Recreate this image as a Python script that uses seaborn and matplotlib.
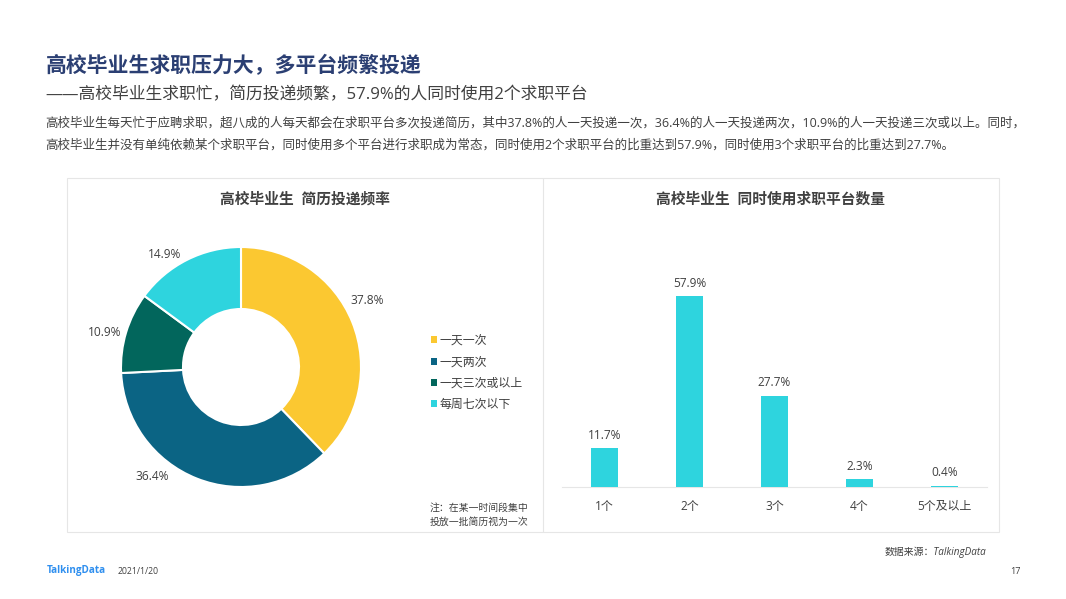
import matplotlib
matplotlib.use('Agg')
import matplotlib.pyplot as plt
from matplotlib.patches import Rectangle, Patch
from matplotlib.lines import Line2D
import pandas as pd
import seaborn as sns

W, H = 1066, 599

# 全角标点
C = '\uff0c'
M = '\uff1a'

# 简历投递频率
freq_labels = ['一天一次', '一天两次', '一天三次或以上', '每周七次以下']
freq_values = [37.8, 36.4, 10.9, 14.9]
freq_colors = ['#FBC831', '#0B6484', '#02665C', '#2ED4DE']

# 同时使用求职平台数量
platform_labels = ['1个', '2个', '3个', '4个', '5个及以上']
platform_values = [11.7, 57.9, 27.7, 2.3, 0.4]
bar_color = '#2ED4DE'

title = f'高校毕业生求职压力大{C}多平台频繁投递'
subtitle = f'——高校毕业生求职忙{C}简历投递频繁{C}57.9%的人同时使用2个求职平台'
body_1 = (f'高校毕业生每天忙于应聘求职{C}超八成的人每天都会在求职平台多次投递简历{C}其中37.8%的人一天投递一次{C}'
          f'36.4%的人一天投递两次{C}10.9%的人一天投递三次或以上。同时{C}')
body_2 = (f'高校毕业生并没有单纯依赖某个求职平台{C}同时使用多个平台进行求职成为常态{C}'
          f'同时使用2个求职平台的比重达到57.9%{C}同时使用3个求职平台的比重达到27.7%。')

sns.set_theme(style='white')
plt.rcParams['font.family'] = ['Open Sans', 'Noto Sans CJK SC', 'DejaVu Sans']

TEXT = '#404040'
BORDER = '#E6E6E6'


def px_axes(fig, x0, y0, x1, y1):
    # 用像素坐标建 axes,y 从上往下
    return fig.add_axes([x0 / W, 1 - y1 / H, (x1 - x0) / W, (y1 - y0) / H])


def px_text(fig, x, y, s, **kw):
    kw.setdefault('va', 'center')
    kw.setdefault('color', TEXT)
    return fig.text(x / W, 1 - y / H, s, **kw)


fig = plt.figure(figsize=(W / 100, H / 100), dpi=100, facecolor='white')

px_text(fig, 45.5, 66, title, fontsize=15.0, fontweight='bold', color='#2B3F73')
px_text(fig, 45.5, 95, subtitle, fontsize=12.1)
px_text(fig, 45.5, 123.5, body_1, fontsize=9.0)
px_text(fig, 45.5, 145.5, body_2, fontsize=9.0)

# 外框和中间分隔线
fig.add_artist(Rectangle((67 / W, 1 - 532 / H), 932 / W, 354 / H, transform=fig.transFigure,
                         fill=False, edgecolor=BORDER, linewidth=0.8))
fig.add_artist(Line2D([542.5 / W, 542.5 / W], [1 - 532 / H, 1 - 178 / H], transform=fig.transFigure,
                      color=BORDER, linewidth=0.8))

px_text(fig, 304.5, 199, '高校毕业生  简历投递频率', fontsize=10.6, fontweight='bold', ha='center')
px_text(fig, 771, 199, '高校毕业生  同时使用求职平台数量', fontsize=10.6, fontweight='bold', ha='center')

# 环形图
ax_pie = px_axes(fig, 101, 227, 381, 507)
wedges, _ = ax_pie.pie(freq_values, colors=freq_colors, startangle=90, counterclock=False,
                       radius=120 / 140, wedgeprops={'width': 62 / 140, 'edgecolor': 'white', 'linewidth': 1.5})
ax_pie.set_xlim(-1, 1)
ax_pie.set_ylim(-1, 1)

pie_label_pos = [(367, 301), (152, 477), (105, 332), (165, 254)]
for (x, y), v in zip(pie_label_pos, freq_values):
    px_text(fig, x, y, f'{v}%', fontsize=8.6, ha='center')

handles = [Patch(facecolor=c, edgecolor='none', label=l) for c, l in zip(freq_colors, freq_labels)]
fig.legend(handles=handles, loc='upper left', bbox_to_anchor=(431 / W, 1 - 334 / H), frameon=False,
           fontsize=8.6, labelcolor=TEXT, handlelength=0.5, handleheight=0.5, handletextpad=0.25,
           labelspacing=0.7, borderpad=0, borderaxespad=0)

px_text(fig, 528, 508, f'注{M}在某一时间段集中', fontsize=7.1, ha='right', style='italic')
px_text(fig, 528, 522, '投放一批简历视为一次', fontsize=7.1, ha='right', style='italic')

# 柱状图,linewidth=0 否则白边把 0.4% 的柱子吃掉
df = pd.DataFrame({'platform': platform_labels, 'share': platform_values})
ax_bar = px_axes(fig, 562, 240, 987, 487)
sns.barplot(data=df, x='platform', y='share', color=bar_color, saturation=1, width=0.32,
            linewidth=0, ax=ax_bar)
ax_bar.set_xlim(-0.5, 4.5)
ax_bar.set_ylim(0, 247 / 3.3)
ax_bar.set_xlabel('')
ax_bar.set_ylabel('')
ax_bar.set_yticks([])
ax_bar.patch.set_alpha(0)
sns.despine(ax=ax_bar, left=True)
ax_bar.spines['bottom'].set_color(BORDER)
ax_bar.spines['bottom'].set_linewidth(0.8)
ax_bar.spines['bottom'].set_zorder(0.5)
ax_bar.tick_params(axis='x', length=0, pad=9.5, labelsize=8.6, labelcolor=TEXT)
ax_bar.bar_label(ax_bar.containers[0], labels=[f'{v}%' for v in platform_values],
                 padding=4.5, fontsize=8.6, color=TEXT)

# 页脚
px_text(fig, 986, 552, f'数据来源{M}TalkingData', fontsize=7.1, ha='right', style='italic')
px_text(fig, 47, 571, 'TalkingData', fontsize=7.1, fontweight='bold', color='#2F8FEF')
px_text(fig, 118, 571, '2021/1/20', fontsize=6.2)
px_text(fig, 1021, 571, '17', fontsize=6.6, ha='right')

fig.savefig('out.png', dpi=100)
